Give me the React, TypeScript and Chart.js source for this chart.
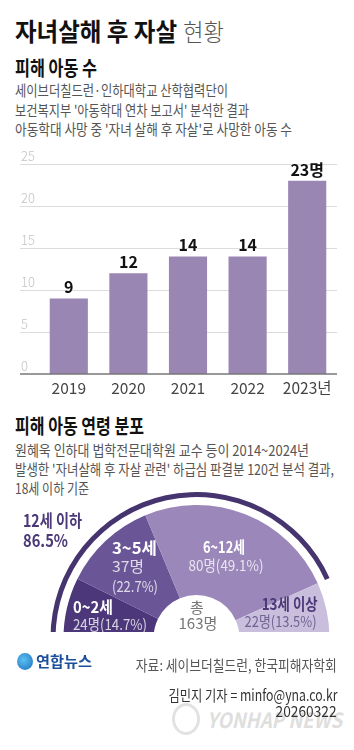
import React, { useEffect, useRef } from 'react';
import { Chart, registerables } from 'chart.js';

Chart.register(...registerables);

const FONT = '"Noto Sans CJK KR", "Noto Sans", sans-serif';

// ---- data: bar chart ----
const years = ['2019', '2020', '2021', '2022', '2023'];
const yearTickLabels = ['2019', '2020', '2021', '2022', '2023년'];
const victimCounts = [9, 12, 14, 14, 23];
const victimValueLabels = ['9', '12', '14', '14', '23명'];
const yTicks = [0, 5, 10, 15, 20, 25];

// ---- data: half donut ----
const ageGroups = ['0~2세', '3~5세', '6~12세', '13세 이상'];
const ageCounts = [24, 37, 80, 22];
const agePercents = [14.7, 22.7, 49.1, 13.5];
const under12Label = '12세 이하';
const under12Percent = 86.5;
const totalLabel = '총';
const totalCount = 163;

const BAR_COLOR = '#9a86b3';
const SLICE_COLORS = ['#4b3779', '#6a5596', '#9b87b9', '#c9bfdc'];
const RING_COLOR = '#46346e';
const DARK_PURPLE = '#4a3878';

const mctx = typeof document !== 'undefined' ? document.createElement('canvas').getContext('2d') : null;
function measure(text: string, size: number, weight: number | string, italic = false) {
  if (!mctx) return 0;
  mctx.font = `${italic ? 'italic ' : ''}${weight} ${size}px ${FONT}`;
  return mctx.measureText(text).width;
}

type TProps = {
  x: number;
  cy: number;
  size: number;
  weight?: number;
  color?: string;
  w?: number;
  align?: 'left' | 'right' | 'center';
  italic?: boolean;
  children: string;
};

function T({ x, cy, size, weight = 400, color = '#111', w, align = 'left', italic = false, children }: TProps) {
  const natural = measure(children, size, weight, italic);
  const sx = w && natural ? w / natural : 1;
  const lh = Math.round(size * 1.3);
  const style: React.CSSProperties = {
    position: 'absolute',
    top: cy - lh / 2 - size * 0.06,
    fontFamily: FONT,
    fontSize: size,
    lineHeight: `${lh}px`,
    fontWeight: weight,
    fontStyle: italic ? 'italic' : 'normal',
    color,
    whiteSpace: 'nowrap',
  };
  if (align === 'left') {
    style.left = x;
    style.transformOrigin = 'left center';
    style.transform = `scaleX(${sx})`;
  } else if (align === 'right') {
    style.right = 354 - x;
    style.transformOrigin = 'right center';
    style.transform = `scaleX(${sx})`;
  } else {
    style.left = x;
    style.transformOrigin = '0 50%';
    style.transform = `scaleX(${sx}) translateX(-50%)`;
  }
  return <div style={style}>{children}</div>;
}

const GRID_LEFT = 20;

function BarChart() {
  const ref = useRef<HTMLCanvasElement>(null);
  useEffect(() => {
    const deco = {
      id: 'deco',
      beforeDatasetsDraw(chart: any) {
        const { ctx, chartArea, scales } = chart;
        const y = scales.y;
        ctx.save();
        yTicks.forEach((v) => {
          const py = Math.round(y.getPixelForValue(v)) + 0.5;
          if (v !== 0) {
            ctx.strokeStyle = '#dcdcdc';
            ctx.lineWidth = 1;
            ctx.beginPath();
            ctx.moveTo(GRID_LEFT, py);
            ctx.lineTo(chartArea.right, py);
            ctx.stroke();
          }
          ctx.fillStyle = '#c4c4c4';
          ctx.font = `300 13px ${FONT}`;
          ctx.textAlign = 'left';
          ctx.textBaseline = 'alphabetic';
          ctx.fillText(String(v), GRID_LEFT + 1, py - 3.5);
        });
        ctx.restore();
      },
      afterDatasetsDraw(chart: any) {
        const { ctx, chartArea, scales } = chart;
        const x = scales.x;
        const y = scales.y;
        ctx.save();
        const py0 = y.getPixelForValue(0);
        ctx.strokeStyle = '#777';
        ctx.lineWidth = 1.5;
        ctx.beginPath();
        ctx.moveTo(GRID_LEFT, py0);
        ctx.lineTo(chartArea.right, py0);
        ctx.stroke();
        ctx.textAlign = 'center';
        ctx.textBaseline = 'alphabetic';
        ctx.font = `bold 16px ${FONT}`;
        ctx.fillStyle = '#111';
        victimCounts.forEach((v, i) => {
          ctx.fillText(victimValueLabels[i], x.getPixelForValue(i), y.getPixelForValue(v) - 5);
        });
        ctx.font = `400 15.5px ${FONT}`;
        ctx.fillStyle = '#444';
        yearTickLabels.forEach((l, i) => {
          ctx.fillText(l, x.getPixelForValue(i), py0 + 19.5);
        });
        ctx.restore();
      },
    };
    const chart = new Chart(ref.current as HTMLCanvasElement, {
      type: 'bar',
      data: {
        labels: years,
        datasets: [
          {
            data: victimCounts,
            backgroundColor: BAR_COLOR,
            borderWidth: 0,
            barPercentage: 0.64,
            categoryPercentage: 1,
          },
        ],
      },
      options: {
        responsive: false,
        animation: false,
        events: [],
        layout: { padding: { left: 39, right: 17, top: 24, bottom: 26 } },
        plugins: { legend: { display: false }, tooltip: { enabled: false } },
        scales: {
          x: { display: false },
          y: { display: false, min: 0, max: 25 },
        },
      },
      plugins: [deco],
    });
    return () => chart.destroy();
  }, []);
  return (
    <canvas
      ref={ref}
      width={354}
      height={260}
      style={{ position: 'absolute', left: 0, top: 140, width: 354, height: 260 }}
    />
  );
}

function HalfDonut() {
  const ref = useRef<HTMLCanvasElement>(null);
  useEffect(() => {
    const chart = new Chart(ref.current as HTMLCanvasElement, {
      type: 'doughnut',
      data: {
        labels: ageGroups,
        datasets: [
          {
            data: [under12Percent, 100 - under12Percent],
            backgroundColor: [RING_COLOR, 'rgba(0,0,0,0)'],
            borderWidth: 0,
            weight: 5,
          } as any,
          {
            data: [1],
            backgroundColor: ['rgba(0,0,0,0)'],
            borderWidth: 0,
            weight: 8,
          } as any,
          {
            data: ageCounts,
            backgroundColor: SLICE_COLORS,
            borderWidth: 0,
            weight: 90,
          } as any,
        ],
      },
      options: {
        responsive: false,
        animation: false,
        events: [],
        rotation: -90,
        circumference: 180,
        cutout: '29.45%',
        layout: { padding: { left: 50.5, right: 11.5, top: 12, bottom: 2 } },
        plugins: { legend: { display: false }, tooltip: { enabled: false } },
      } as any,
    });
    return () => chart.destroy();
  }, []);
  return (
    <div style={{ position: 'absolute', left: 0, top: 480, width: 354, height: 152, overflow: 'hidden' }}>
      <canvas ref={ref} width={354} height={160} style={{ display: 'block', width: 354, height: 160 }} />
    </div>
  );
}

export default function App() {
  const light = 'rgba(255,255,255,0.78)';
  return (
    <div
      style={{
        position: 'absolute',
        left: 0,
        top: 0,
        width: 354,
        height: 750,
        overflow: 'hidden',
        background: '#fff',
        fontFamily: FONT,
      }}
    >
      <T x={15} cy={31.5} size={25} weight={700} color="#111" w={162}>자녀살해 후 자살</T>
      <T x={183} cy={31.5} size={24} weight={300} color="#555" w={41}>현황</T>

      <T x={15} cy={69} size={20} weight={700} color="#111" w={82}>피해 아동 수</T>
      <T x={15} cy={91} size={15} color="#555" w={213}>세이브더칠드런·인하대학교 산학협력단이</T>
      <T x={15} cy={110.5} size={15} color="#555" w={234}>보건복지부 '아동학대 연차 보고서' 분석한 결과</T>
      <T x={15} cy={129.5} size={15} color="#555" w={277}>아동학대 사망 중 '자녀 살해 후 자살'로 사망한 아동 수</T>

      <BarChart />

      <T x={15} cy={427} size={20} weight={700} color="#111" w={129}>피해 아동 연령 분포</T>
      <T x={15} cy={451} size={15} color="#555" w={294}>원혜욱 인하대 법학전문대학원 교수 등이 2014~2024년</T>
      <T x={15} cy={469.5} size={15} color="#555" w={319}>발생한 '자녀살해 후 자살 관련' 하급심 판결분 120건 분석 결과,</T>
      <T x={15} cy={489} size={15} color="#555" w={74}>18세 이하 기준</T>

      <HalfDonut />

      <T x={23} cy={521.5} size={17} weight={700} color={DARK_PURPLE} w={59}>{under12Label}</T>
      <T x={23} cy={541.5} size={17} weight={700} color={DARK_PURPLE} w={45}>{`${under12Percent}%`}</T>

      <T x={112} cy={548} size={16} weight={700} color="#fff" w={45}>{ageGroups[1]}</T>
      <T x={112} cy={567} size={15} color={light} w={32}>{`${ageCounts[1]}명`}</T>
      <T x={112} cy={587} size={15} color={light} w={46}>{`(${agePercents[1]}%)`}</T>

      <T x={224} cy={547} size={16} weight={700} color="#fff" w={42} align="center">{ageGroups[2]}</T>
      <T x={225.5} cy={566} size={15} color={light} w={75} align="center">{`${ageCounts[2]}명(${agePercents[2]}%)`}</T>

      <T x={73} cy={607.5} size={16} weight={700} color="#fff" w={40}>{ageGroups[0]}</T>
      <T x={73} cy={625} size={15} color={light} w={74}>{`${ageCounts[0]}명(${agePercents[0]}%)`}</T>

      <T x={197} cy={608} size={15} color="#777" align="center">{totalLabel}</T>
      <T x={197.5} cy={624} size={15} color="#777" w={39} align="center">{`${totalCount}명`}</T>

      <T x={318} cy={604} size={16} weight={700} color={DARK_PURPLE} w={56} align="right">{ageGroups[3]}</T>
      <T x={317} cy={622} size={15} color="#6f6394" w={72} align="right">{`${ageCounts[3]}명(${agePercents[3]}%)`}</T>

      {/* footer */}
      <div
        style={{
          position: 'absolute',
          left: 17,
          top: 653,
          width: 16,
          height: 17,
          borderRadius: '50%',
          background: 'radial-gradient(circle at 40% 40%, #5cc0f0, #1a6fc0)',
        }}
      />
      <T x={36} cy={662} size={15} weight={700} color="#1b4f9c" w={56}>연합뉴스</T>
      <T x={337} cy={666} size={15} color="#555" w={201} align="right">자료: 세이브더칠드런, 한국피해자학회</T>

      <div
        style={{
          position: 'absolute',
          left: 172,
          top: 703,
          width: 22,
          height: 26,
          borderRadius: '50%',
          border: '3px solid #e2e2e2',
        }}
      />
      <T x={207} cy={721} size={21} weight={700} italic color="#dedede" w={135}>YONHAP NEWS</T>
      <T x={337} cy={696} size={15} color="#333" w={169} align="right">김민지 기자 = minfo@yna.co.kr</T>
      <T x={337} cy={711.5} size={15} color="#333" w={61} align="right">20260322</T>
    </div>
  );
}
